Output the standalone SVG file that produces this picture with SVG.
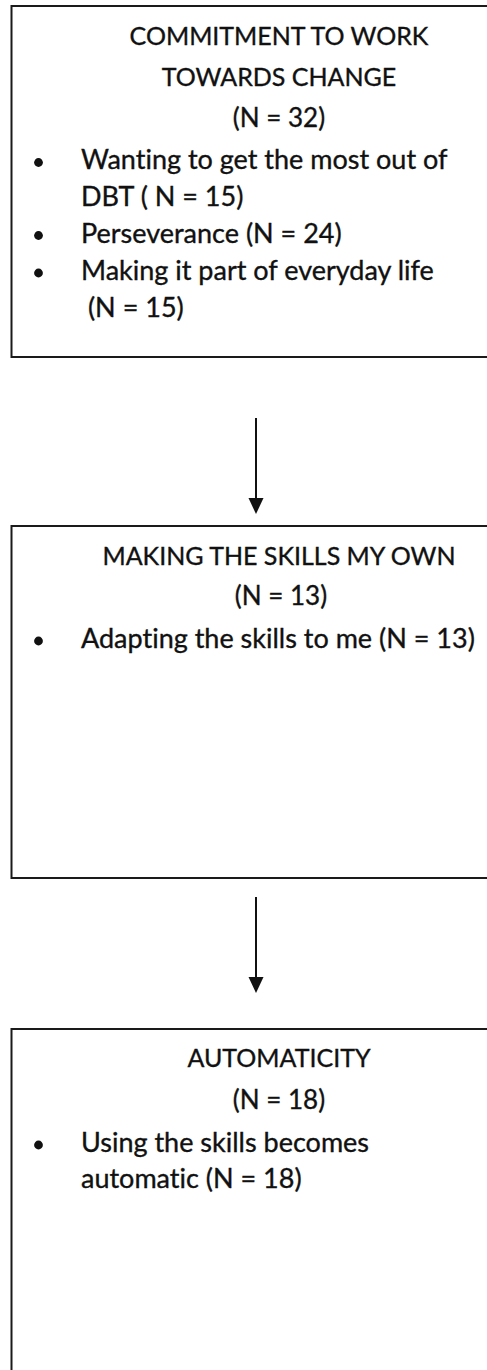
<svg xmlns="http://www.w3.org/2000/svg" width="487" height="1370" viewBox="0 0 487 1370">
  <style>
    .box { fill: #ffffff; stroke: #1a1a1a; stroke-width: 2; }
    .t { font-family: Lato, "Open Sans", "Liberation Sans", sans-serif; font-size: 27px; fill: #111111; stroke: #111111; stroke-width: 0.35px; font-variant-ligatures: none; }
    .h { font-size: 25px; }
    .n { font-size: 26px; }
    .c { text-anchor: middle; }
    .dot { fill: #111111; }
    .edge { stroke: #111111; stroke-width: 2; fill: none; }
    .head { fill: #111111; }
  </style>
  <rect width="487" height="1370" fill="#ffffff"/>

  <g id="node-commitment">
    <rect class="box" x="11.5" y="6" width="560" height="351"/>
    <text class="t h c" x="279" y="45">COMMITMENT TO WORK</text>
    <text class="t h c" x="279" y="86">TOWARDS CHANGE</text>
    <text class="t n c" x="279" y="127">(N = 32)</text>
    <circle class="dot" cx="38.5" cy="162.5" r="4.4"/>
    <text class="t" x="81" y="169">Wanting to get the most out of</text>
    <text class="t" x="81" y="206">DBT ( N = 15)</text>
    <circle class="dot" cx="38.5" cy="235.5" r="4.4"/>
    <text class="t" x="81" y="243">Perseverance (N = 24)</text>
    <circle class="dot" cx="38.5" cy="273" r="4.4"/>
    <text class="t" x="81" y="280">Making it part of everyday life</text>
    <text class="t" x="81" y="317" xml:space="preserve"> (N = 15)</text>
  </g>

  <g id="node-own">
    <rect class="box" x="11.5" y="526" width="560" height="352"/>
    <text class="t h c" x="279" y="565">MAKING THE SKILLS MY OWN</text>
    <text class="t n c" x="281" y="605">(N = 13)</text>
    <circle class="dot" cx="38.5" cy="641" r="4.4"/>
    <text class="t" x="81" y="648">Adapting the skills to me (N = 13)</text>
  </g>

  <g id="node-automaticity">
    <rect class="box" x="11.5" y="1029" width="560" height="400"/>
    <text class="t h c" x="279" y="1067">AUTOMATICITY</text>
    <text class="t n c" x="279" y="1109">(N = 18)</text>
    <circle class="dot" cx="38.5" cy="1145" r="4.4"/>
    <text class="t" x="81" y="1152">Using the skills becomes</text>
    <text class="t" x="81" y="1188">automatic (N = 18)</text>
  </g>

  <g id="connectors">
    <line class="edge" x1="256" y1="418" x2="256" y2="500"/>
    <path class="head" d="M248.5,498 L263.5,498 L256,514 Z"/>
    <line class="edge" x1="256" y1="897" x2="256" y2="979"/>
    <path class="head" d="M248.5,977 L263.5,977 L256,993 Z"/>
  </g>
</svg>
